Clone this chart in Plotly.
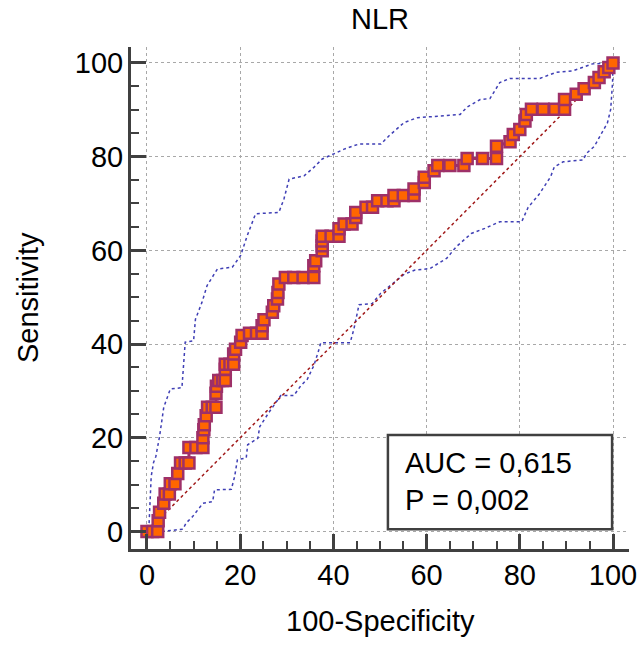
import plotly.graph_objects as go

# ROC curve points (100-Specificity, Sensitivity)
roc_fpr = [0, 1.2, 2.3, 2.4, 2.7, 3.6, 3.9, 4.8, 5.0, 6.0, 6.6, 7.2, 8.2, 9.0, 9.0, 10.5, 12.0,
           12.0, 12.2, 12.3, 12.7, 13.0, 14.0, 14.8, 14.8, 14.9, 15.4, 16.2, 16.8, 16.8, 16.8, 17.8,
           18.6, 18.6, 19.0, 20.1, 20.4, 22.0, 23.5, 24.7, 24.7, 25.1, 26.9, 27.2, 28.0, 28.1, 28.3,
           29.7, 31.5, 33.5, 35.8, 35.8, 36.2, 37.6, 37.6, 37.6, 37.6, 39.5, 41.2, 41.2, 42.3, 44.0,
           44.8, 44.8, 47.0, 48.4, 49.5, 51.5, 53.0, 53.0, 55.0, 57.3, 57.3, 59.5, 59.5, 61.6, 62.4,
           65.0, 68.0, 68.7, 72.0, 75.0, 75.0, 77.9, 78.6, 80.0, 81.1, 81.4, 82.5, 85.0, 87.5, 89.6,
           89.6, 92.1, 93.8, 96.0, 97.0, 98.1, 99.1, 100]
roc_tpr = [0, 0, 0, 2.3, 4.1, 6.0, 8.0, 8.0, 10.2, 10.2, 12.4, 14.6, 14.6, 14.6, 17.9, 17.9, 17.9,
           20.0, 21.7, 22.8, 24.7, 26.5, 26.5, 26.5, 29.5, 31.0, 32.2, 32.2, 32.2, 34.6, 35.7, 35.7,
           35.7, 37.9, 38.9, 40.4, 41.8, 42.3, 42.3, 42.3, 43.9, 45.2, 46.8, 48.2, 49.6, 51.0, 52.8,
           54.2, 54.2, 54.2, 54.2, 56.7, 57.8, 59.9, 61.0, 62.0, 63.0, 63.0, 63.0, 64.6, 65.6, 65.6,
           67.0, 68.1, 69.2, 69.2, 70.6, 70.6, 70.6, 71.7, 71.7, 71.7, 73.1, 74.5, 75.6, 77.0, 78.1,
           78.1, 78.1, 79.6, 79.6, 79.6, 82.2, 83.2, 84.7, 85.8, 87.6, 89.0, 90.1, 90.1, 90.1, 90.1,
           92.2, 93.3, 94.5, 95.8, 96.9, 98.1, 99.0, 100]

# Upper 95% confidence bound
upper_x = [0.4, 0.5, 0.7, 0.9, 1.4, 1.9, 2.7, 3.6, 5.0, 7.5, 8.2, 10.0, 10.4, 11.8, 12.9, 15.1,
           18.3, 20.1, 21.5, 23.3, 28.3, 29.4, 30.5, 33.7, 35.8, 37.6, 40.1, 42.3, 45.5, 50.2, 52.0,
           55.2, 58.0, 61.6, 67.2, 68.7, 71.5, 73.6, 75.7, 77.9, 84.3, 87.8, 91.3, 95.6, 100]
upper_y = [0.5, 3.0, 6.0, 11.7, 14.7, 16.0, 20.3, 26.5, 30.4, 30.7, 40.4, 40.7, 45.3, 48.9, 52.5,
           56.0, 56.4, 58.9, 63.1, 67.8, 68.1, 71.0, 75.2, 75.9, 77.7, 79.5, 80.6, 81.6, 82.7, 82.7,
           84.5, 87.3, 88.3, 88.6, 89.0, 90.6, 92.2, 92.4, 95.8, 96.7, 96.7, 98.0, 98.3, 99.8, 100]

# Lower 95% confidence bound
lower_x = [3.2, 7.7, 8.4, 9.8, 12.0, 14.1, 14.5, 18.1, 18.8, 19.4, 21.3, 21.6, 23.8, 24.2, 26.3,
           28.7, 31.5, 33.0, 34.4, 35.8, 36.8, 37.3, 43.6, 44.4, 45.5, 48.3, 50.1, 52.9, 55.2, 57.5,
           60.7, 64.3, 66.4, 69.6, 72.5, 75.7, 80.4, 81.8, 84.1, 86.6, 87.4, 89.3, 93.6, 94.3, 96.0,
           97.0, 98.8, 99.5, 99.9, 100]
lower_y = [0, 0.5, 1.8, 3.2, 6.0, 6.4, 8.9, 9.0, 11.7, 15.3, 15.7, 18.5, 19.9, 22.4, 25.6,
           29.0, 29.0, 31.1, 32.5, 35.4, 38.5, 40.3, 40.3, 43.2, 48.4, 48.6, 50.8, 53.0, 54.9, 55.8,
           56.1, 58.3, 60.8, 63.6, 64.7, 66.1, 66.1, 69.2, 71.9, 75.7, 77.8, 78.9, 79.3, 80.7, 82.2,
           84.0, 87.2, 90.1, 95.8, 100]

diag = [0, 100]
tick_vals = [0, 20, 40, 60, 80, 100]
tick_text = ["0", "20", "40", "60", "80", "100"]

FONT = "Liberation Sans, Arial, sans-serif"
AXC = "#404040"

# layout in pixels
W, H = 641, 645
ML, MR, MT, MB = 131, 12, 47, 96
PW, PH = W - ML - MR, H - MT - MB

fig = go.Figure()
fig.add_trace(go.Scatter(x=upper_x, y=upper_y, mode="lines",
                         line=dict(color="#3f3fb5", width=1.5, dash="dot"), hoverinfo="skip"))
fig.add_trace(go.Scatter(x=lower_x, y=lower_y, mode="lines",
                         line=dict(color="#3f3fb5", width=1.5, dash="dot"), hoverinfo="skip"))
fig.add_trace(go.Scatter(x=diag, y=diag, mode="lines",
                         line=dict(color="#a01818", width=1.5, dash="dot"), hoverinfo="skip"))
fig.add_trace(go.Scatter(x=roc_fpr, y=roc_tpr, mode="lines+markers",
                         line=dict(color="#9e3068", width=3),
                         marker=dict(symbol="square", size=11, color="#ff6600",
                                     line=dict(color="#9e3068", width=2.5))))

axis_common = dict(
    tickvals=tick_vals, ticktext=tick_text,
    ticks="inside", ticklen=15, tickwidth=3, tickcolor=AXC,
    showline=True, linewidth=3, linecolor=AXC,
    showgrid=True, gridcolor="#a8a8a8", gridwidth=1, griddash="dot",
    zeroline=False, mirror=False, automargin=False,
    tickfont=dict(family=FONT, size=29, color="#000000"),
    minor=dict(dtick=5, tick0=0, ticks="inside", ticklen=8, tickwidth=2,
               tickcolor=AXC, showgrid=False),
)

fig.update_xaxes(range=[-3.43, 103.43], ticklabelstandoff=-2, **axis_common)
fig.update_yaxes(range=[-3.74, 103.4], ticklabelstandoff=-1, **axis_common)

# axis titles
fig.add_annotation(x=0.5, y=-(621 - (H - MB)) / PH, xref="paper", yref="paper",
                   text="100-Specificity", showarrow=False, xanchor="center", yanchor="middle",
                   font=dict(family=FONT, size=29, color="#000"))
fig.add_annotation(x=(28 - ML) / PW, y=((H - MB) - 298) / PH, xref="paper", yref="paper",
                   text="Sensitivity", showarrow=False, textangle=-90,
                   xanchor="center", yanchor="middle",
                   font=dict(family=FONT, size=29, color="#000"))

fig.add_shape(type="rect", x0=51.7, x1=99.8, y0=0.5, y1=20.6, xref="x", yref="y",
              line=dict(color=AXC, width=2.5), fillcolor="white", layer="above")
fig.add_annotation(x=54.9, y=14.6, xref="x", yref="y", text="AUC = 0,615", showarrow=False,
                   xanchor="left", yanchor="middle", font=dict(family=FONT, size=29, color="#000"))
fig.add_annotation(x=54.9, y=6.7, xref="x", yref="y", text="P = 0,002", showarrow=False,
                   xanchor="left", yanchor="middle", font=dict(family=FONT, size=29, color="#000"))

fig.update_layout(
    width=W, height=H,
    margin=dict(l=ML, r=MR, t=MT, b=MB, autoexpand=False),
    paper_bgcolor="white", plot_bgcolor="white",
    showlegend=False,
    title=dict(text="NLR", x=(ML + W - MR) / 2 / W, xanchor="center",
               y=1 - 19 / H, yanchor="middle", yref="container", automargin=False,
               font=dict(family=FONT, size=29, color="#000")),
)

fig.write_html("out.html", config={"displayModeBar": False},
               post_script="document.body.style.margin='0';")
